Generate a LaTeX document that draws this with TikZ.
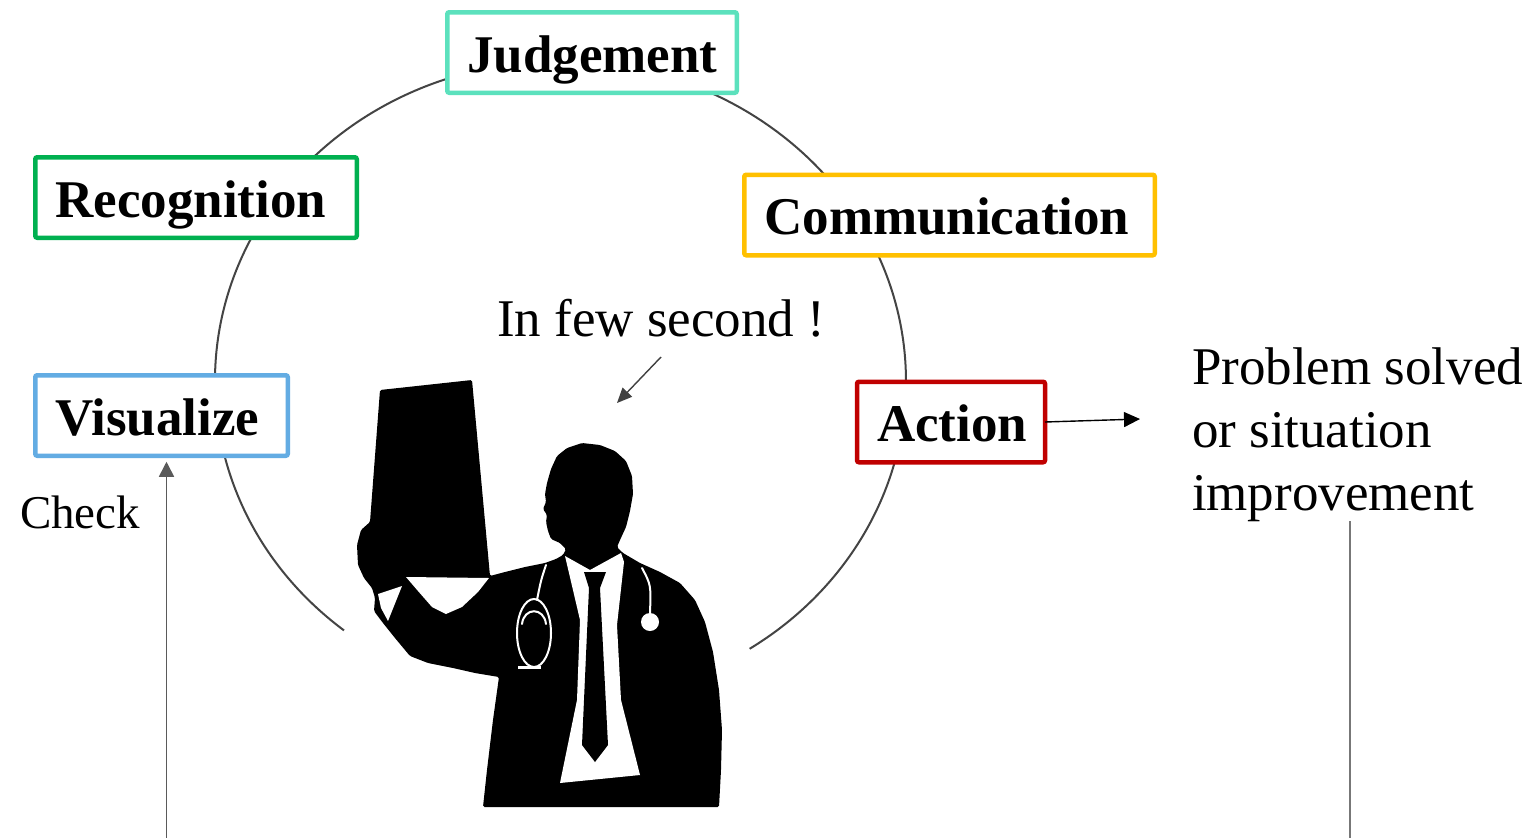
\documentclass[tikz,border=0pt]{standalone}
\usepackage{fontspec}
\setmainfont{Liberation Serif}
\usetikzlibrary{arrows.meta,calc}

\definecolor{judC}{HTML}{5CE1BD}
\definecolor{recC}{HTML}{00B050}
\definecolor{comC}{HTML}{FFC000}
\definecolor{visC}{HTML}{63ACE3}
\definecolor{actC}{HTML}{C00000}
\definecolor{ringC}{HTML}{444444}
\definecolor{pointerC}{HTML}{404040}
\definecolor{railC}{HTML}{5A5A5A}
\definecolor{leadC}{HTML}{777777}

\tikzset{
  stage/.style={draw, line width=4.5pt, rounded corners=2pt, fill=white,
    inner xsep=20pt, inner ysep=0pt, outer sep=0pt, minimum height=80.5pt,
    align=left, text height=45pt, text depth=6pt,
    font=\fontsize{53}{60}\selectfont\bfseries},
  plain/.style={inner sep=0pt, outer sep=0pt, anchor=base west,
    font=\fontsize{53}{63}\selectfont},
  ring/.style={draw=ringC, line width=2pt},
  tube/.style={draw=white, line width=2pt, line cap=round},
}

\begin{document}
\begin{tikzpicture}[x=1pt,y=-1pt]
\useasboundingbox[fill=white] (0,0) rectangle (1537,838);

% the cycle ring, open at the bottom
\draw[ring] (344,630.4) arc[start angle=128.8, end angle=416.8,
  x radius=345.5, y radius=320];

% the five stages
\node[stage, draw=judC, text width=249.5pt] (jud) at (592,52.5) {Judgement};
\node[stage, draw=recC, text width=281.5pt] (rec) at (196,197.5) {Recognition};
\node[stage, draw=comC, text width=370.5pt] (com) at (949.5,215) {Communication};
\node[stage, draw=visC, text width=212.5pt] (vis) at (161.5,415.5) {Visualize};
\node[stage, draw=actC, text width=148pt] (act) at (951,422) {Action};

% free texts
\node[plain] (few) at (497,336) {In few second !};
\node[plain] (res1) at (1192,384) {Problem solved};
\node[plain] (res2) at (1192,447) {or situation};
\node[plain] (res3) at (1192,510) {improvement};
\node[plain, font=\fontsize{47}{55}\selectfont] (chk) at (20,528) {Check};

% connectors
\coordinate (actEnd) at (1140,419);
\draw[line width=1.4pt, -{Triangle[length=16pt,width=15pt]}] (act.east) -- (actEnd);

\coordinate (fewFrom) at (661,357);
\coordinate (fewTo) at (617,403);
\draw[pointerC, line width=1.4pt, -{Triangle[length=15pt,width=13pt]}] (fewFrom) -- (fewTo);

\coordinate (chkFoot) at (166.5,838);
\draw[railC, line width=1.6pt, -{Triangle[length=15pt,width=15pt]}, shorten >=6pt]
  (chkFoot) -- (chkFoot |- vis.south);

\coordinate (resFoot) at (1350,838);
\draw[leadC, line width=1.6pt] (resFoot |- res3.south) -- (resFoot);

% doctor holding up an x-ray film
\fill[black, rounded corners=1.5pt]
  (380,390) -- (472,380) -- (490,576) -- (505,572) -- (525,567) -- (545,563)
  -- (556,559) -- (563,555) -- (566,549) -- (560,543) -- (551,539) -- (548,531)
  -- (546,522) -- (547,515) -- (543,509) -- (546,502) -- (545,494) -- (547,483)
  -- (551,469) -- (557,456) -- (567,448) -- (582,443) -- (600,445) -- (615,451)
  -- (626,461) -- (632,476) -- (633,494) -- (630,511) -- (626,527) -- (620,540)
  -- (617,547) -- (623,553) -- (640,563) -- (660,572) -- (680,583) -- (695,600)
  -- (705,622) -- (713,652) -- (719,690) -- (722,730) -- (721,770) -- (719,807)
  -- (483,807) -- (487,770) -- (493,720) -- (499,677) -- (475,673) -- (453,668)
  -- (428,663) -- (410,656) -- (395,638) -- (383,623) -- (374,611) -- (375,598)
  -- (372,588) -- (364,578) -- (358,565) -- (357,545) -- (361,530) -- (370,522)
  -- cycle;
% gap between film and raised arm
\fill[white] (406,577) -- (489,578) -- (478,592) -- (462,607) -- (446,614)
  -- (432,607) -- (418,591) -- cycle;
% shirt cuff
\fill[white] (378,594) -- (402,586) -- (394,606) -- (388,621) -- (381,608) -- cycle;
% shirt front
\fill[white] (565,556) -- (590,570) -- (621,553) -- (624,562) -- (617,625)
  -- (621,700) -- (640,775) -- (560,783) -- (577,700) -- (580,620) -- cycle;
% tie
\fill[black] (584,572) -- (606,572) -- (600,588) -- (608,745) -- (595,762)
  -- (582,745) -- (589,588) -- cycle;
% stethoscope
\draw[tube] (546,565) .. controls (541,580) .. (537,600);
\draw[tube] (534,633) ellipse[x radius=17, y radius=34];
\draw[tube] (522,624) .. controls (524,607) and (544,607) .. (546,624);
\draw[draw=white, line width=3pt] (518,667) -- (541,667);
\draw[tube] (642,568) .. controls (651,585) .. (650,613);
\fill[white] (650,622) circle[radius=9];
\end{tikzpicture}
\end{document}
